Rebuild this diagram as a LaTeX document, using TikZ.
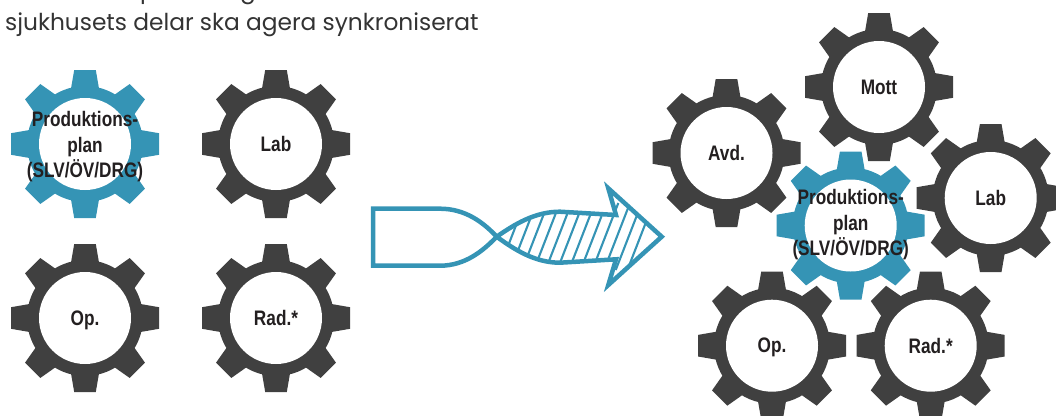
\documentclass[tikz,border=0pt]{standalone}
\usepackage{fontspec}
\setmainfont{Liberation Sans}
\newfontfamily\titlefont{Poppins}
\definecolor{gearblue}{HTML}{3594B5}
\definecolor{geargray}{HTML}{404040}
\definecolor{gtext}{HTML}{231F20}
\definecolor{ttext}{HTML}{333333}
\tikzset{
  gearlabel/.style={font=\bfseries\fontsize{21}{25.5}\selectfont,text=gtext,align=center,inner sep=0pt,xscale=.82},
  flow/.style={draw=gearblue,line width=4.5pt,line join=miter,miter limit=10},
  hatchline/.style={draw=gearblue,line width=2.1pt},
  title/.style={font=\titlefont\fontsize{23.3}{30}\selectfont,text=ttext,inner sep=0pt,anchor=base west}
}
% a gear with eight teeth: name, x, y, colour
\newcommand{\gear}[4]{%
  \begin{scope}[shift={(#2,#3)}]
    \fill[#4] (0,0) circle[radius=58];
    \foreach \a in {0,45,...,315}{
      \fill[#4,rotate=\a] (-14.5,-52) -- (-14,-55.5) -- (-10.8,-74) -- (10.8,-74) -- (14,-55.5) -- (14.5,-52) -- cycle;
    }
    \fill[white] (0,0) circle[radius=46];
    \coordinate (#1) at (0,0);
  \end{scope}
}
\begin{document}
\begin{tikzpicture}[x=1pt,y=-1pt]
\useasboundingbox (0,0) rectangle (1056,415);
\clip (0,0) rectangle (1056,415);
\node[title] (t2) at (5,30) {sjukhusets delar ska agera synkroniserat};
\node[title] (t1a) at (140,-1.5) {p};
\node[title] (t1b) at (240,-1.5) {g};
% left
\gear{gA}{85}{144}{gearblue}
\gear{gB}{276}{144}{geargray}
\gear{gC}{85}{318}{geargray}
\gear{gD}{276}{318}{geargray}
\node[gearlabel] (lA) at (85,147) {Produktions-\\plan\\(SLV/ÖV/DRG)};
\node[gearlabel] (lB) at (276,144) {Lab};
\node[gearlabel] (lC) at (85,320) {Op.};
\node[gearlabel] (lD) at (276,318) {Rad.*};
% arrow
\coordinate (tw) at (496.7,236.7);
\begin{scope}
\clip (tw) .. controls (515,224) and (535,211.7) .. (560,211.7) -- (616,215) -- (608.3,188.3) -- (661.7,236.7) -- (608.3,285) -- (616,259.3) -- (560,262.7) .. controls (535,262.7) and (515,250) .. (tw) -- cycle;
\foreach \k in {0,1,...,11}{
  \draw[hatchline] (511.7+\k*11.7+13,203) -- (511.7+\k*11.7-13,270);
}
\end{scope}
\draw[flow] (373,208.7) -- (440,208.7) .. controls (465,208.7) and (483,222) .. (tw)
  .. controls (515,224) and (535,211.7) .. (560,211.7) -- (616,215) -- (608.3,188.3) -- (661.7,236.7) -- (608.3,285) -- (616,259.3) -- (560,262.7)
  .. controls (535,262.7) and (515,250) .. (tw)
  .. controls (483,251) and (465,265.7) .. (440,265.7) -- (373,265.7) -- cycle;
% right
\gear{gE}{879}{87}{geargray}
\gear{gF}{726.5}{153}{geargray}
\gear{gG}{850.7}{225.5}{gearblue}
\gear{gH}{990.7}{198}{geargray}
\gear{gI}{772}{345.7}{geargray}
\gear{gJ}{930.7}{345.7}{geargray}
\node[gearlabel] (lE) at (879,87.5) {Mott};
\node[gearlabel] (lF) at (726.5,153) {Avd.};
\node[gearlabel] (lG) at (850.7,225) {Produktions-\\plan\\(SLV/ÖV/DRG)};
\node[gearlabel] (lH) at (990.7,198) {Lab};
\node[gearlabel] (lI) at (772,347.7) {Op.};
\node[gearlabel] (lJ) at (930.7,345.7) {Rad.*};
\end{tikzpicture}
\end{document}
